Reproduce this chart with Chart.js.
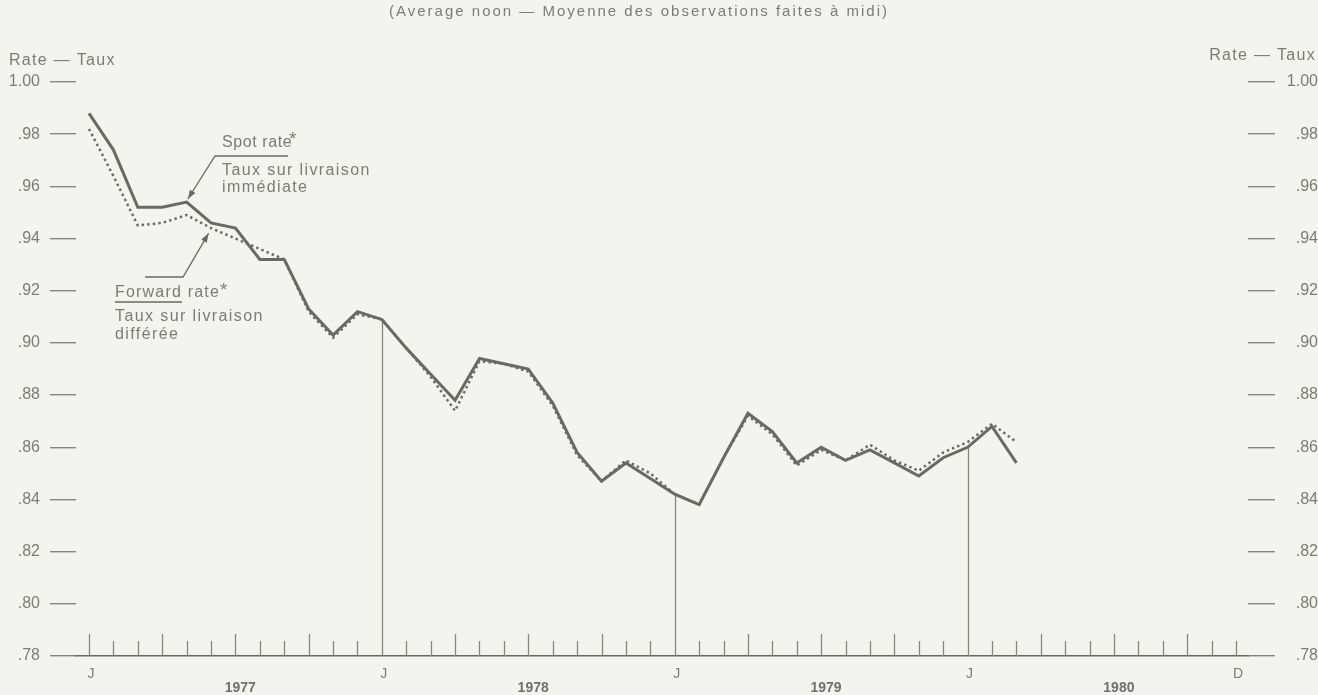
<!DOCTYPE html>
<html>
<head>
<meta charset="utf-8">
<script src="https://cdn.jsdelivr.net/npm/chart.js@4"></script>
<style>
  html, body { margin: 0; padding: 0; background: #f3f4ef; }
</style>
</head>
<body>
<canvas id="rateChart" width="1318" height="695"></canvas>
<script>
// monthly averages, Jan 1977 .. Mar 1980
const months = ['1977-01','1977-02','1977-03','1977-04','1977-05','1977-06','1977-07','1977-08','1977-09','1977-10','1977-11','1977-12',
                '1978-01','1978-02','1978-03','1978-04','1978-05','1978-06','1978-07','1978-08','1978-09','1978-10','1978-11','1978-12',
                '1979-01','1979-02','1979-03','1979-04','1979-05','1979-06','1979-07','1979-08','1979-09','1979-10','1979-11','1979-12',
                '1980-01','1980-02','1980-03'];
const spotRate = [0.988,0.974,0.952,0.952,0.954,0.946,0.944,0.932,0.932,0.913,0.903,0.912,
                  0.909,0.898,0.888,0.878,0.894,0.892,0.890,0.877,0.858,0.847,0.854,0.848,
                  0.842,0.838,0.856,0.873,0.866,0.854,0.860,0.855,0.859,0.854,0.849,0.856,
                  0.860,0.868,0.854];
const forwardRate = [0.982,0.964,0.945,0.946,0.949,0.944,0.940,0.936,0.932,0.912,0.902,0.911,
                     0.909,0.898,0.887,0.874,0.893,0.892,0.889,0.876,0.857,0.847,0.855,0.850,
                     0.842,0.838,0.856,0.872,0.865,0.853,0.859,0.855,0.861,0.855,0.851,0.858,
                     0.862,0.869,0.862];

// axis labels
const yTicks = [0.78,0.80,0.82,0.84,0.86,0.88,0.90,0.92,0.94,0.96,0.98,1.00];
const monthLabelAt = ['1977-01','1978-01','1979-01','1980-01','1980-12'];
const monthLabels = ['J','J','J','J','D'];
const yearLabelAt = ['1977-07','1978-07','1979-07','1980-07'];
const yearLabels = ['1977','1978','1979','1980'];
const axisFirst = '1977-01', axisLast = '1980-12';

const LINE = '#686b61';
const TICK = '#85887e';
const TEXT = '#7a7d73';
const BG = '#f3f4ef';
const FONT = '"Liberation Sans", Arial, sans-serif';

function monthIndex(m) {
  const [yy, mm] = m.split('-').map(Number);
  return (yy - 1977) * 12 + (mm - 1);
}

const X_MIN = -0.533, X_MAX = 47.49;

function fmtRate(v) {
  const s = v.toFixed(2);
  return v >= 1 ? s : s.slice(1);
}

function text(ctx, str, x, y, size, align, ls, bold) {
  ctx.font = (bold ? 'bold ' : '') + size + 'px ' + FONT;
  ctx.letterSpacing = (ls || 0) + 'px';
  ctx.textAlign = align || 'left';
  ctx.textBaseline = 'alphabetic';
  ctx.fillStyle = TEXT;
  ctx.fillText(str, x, y);
}

function arrowHead(ctx, fromX, fromY, toX, toY) {
  const a = Math.atan2(toY - fromY, toX - fromX);
  const len = 9, w = 3.2;
  ctx.beginPath();
  ctx.moveTo(toX, toY);
  ctx.lineTo(toX - len * Math.cos(a) + w * Math.sin(a), toY - len * Math.sin(a) - w * Math.cos(a));
  ctx.lineTo(toX - len * Math.cos(a) - w * Math.sin(a), toY - len * Math.sin(a) + w * Math.cos(a));
  ctx.closePath();
  ctx.fill();
}

const decorations = {
  id: 'decorations',
  beforeDraw(chart) {
    const ctx = chart.ctx;
    ctx.save();
    ctx.fillStyle = BG;
    ctx.fillRect(0, 0, chart.width, chart.height);
    ctx.restore();
  },
  beforeDatasetsDraw(chart) {
    const {ctx, scales: {x, y}} = chart;
    const base = y.getPixelForValue(0.78);
    ctx.save();
    ctx.strokeStyle = TICK;
    ctx.lineWidth = 1.3;
    for (let i = monthIndex(axisFirst); i <= monthIndex(axisLast); i++) {
      const px = Math.round(x.getPixelForValue(i)) + 0.5;
      let top = base - (i % 3 === 0 ? 22 : 15);
      // january lines run up to the spot curve
      if (i % 12 === 0 && i > 0 && i < spotRate.length) top = y.getPixelForValue(spotRate[i]);
      ctx.beginPath();
      ctx.moveTo(px, base);
      ctx.lineTo(px, top);
      ctx.stroke();
    }
    ctx.restore();
  },
  afterDraw(chart) {
    const {ctx, scales: {x, y}} = chart;
    ctx.save();
    text(ctx, '(Average noon \u2014 Moyenne des observations faites \u00e0 midi)', 639, 16, 15, 'center', 2);
    text(ctx, 'Rate \u2014 Taux', 9, 65, 16, 'left', 1.3);
    text(ctx, 'Rate \u2014 Taux', 1316, 60, 16, 'right', 1.3);

    // spot rate note
    text(ctx, 'Spot rate', 222, 147, 16, 'left', 0.6);
    text(ctx, '*', 289, 145, 19, 'left', 0);
    text(ctx, 'Taux sur livraison', 222, 175, 16, 'left', 1.4);
    text(ctx, 'imm\u00e9diate', 222, 192, 16, 'left', 1.4);
    // forward rate note
    text(ctx, 'Forward rate', 115, 297, 16, 'left', 1.2);
    text(ctx, '*', 220, 296, 19, 'left', 0);
    text(ctx, 'Taux sur livraison', 115, 321, 16, 'left', 1.4);
    text(ctx, 'diff\u00e9r\u00e9e', 115, 339, 16, 'left', 1.4);

    ctx.strokeStyle = LINE;
    ctx.fillStyle = LINE;
    ctx.lineWidth = 1.3;
    // spot pointer
    const sx = x.getPixelForValue(4.05), sy = y.getPixelForValue(spotRate[4]) - 3;
    ctx.beginPath();
    ctx.moveTo(288, 156); ctx.lineTo(215, 156); ctx.lineTo(sx, sy);
    ctx.stroke();
    arrowHead(ctx, 215, 156, sx, sy);
    // forward pointer
    const fx = x.getPixelForValue(4.9), fy = y.getPixelForValue(0.942);
    ctx.beginPath();
    ctx.moveTo(145, 277); ctx.lineTo(183, 277); ctx.lineTo(fx, fy);
    ctx.stroke();
    arrowHead(ctx, 183, 277, fx, fy);
    ctx.beginPath();
    ctx.moveTo(115, 302); ctx.lineTo(182, 302);
    ctx.stroke();
    ctx.restore();
  }
};

const tickFont = { family: FONT, size: 16 };

new Chart(document.getElementById('rateChart'), {
  type: 'line',
  data: {
    datasets: [
      {
        label: 'Spot rate',
        data: spotRate.map((v, i) => ({ x: monthIndex(months[i]), y: v })),
        borderColor: LINE,
        borderWidth: 3,
        pointRadius: 0,
        tension: 0
      },
      {
        label: 'Forward rate',
        data: forwardRate.map((v, i) => ({ x: monthIndex(months[i]), y: v })),
        borderColor: LINE,
        borderWidth: 2.5,
        borderDash: [2.4, 3.2],
        pointRadius: 0,
        tension: 0
      }
    ]
  },
  options: {
    responsive: false,
    animation: false,
    devicePixelRatio: 1,
    layout: { padding: { top: 82, left: 0, right: 0, bottom: 0 } },
    plugins: { legend: { display: false }, tooltip: { enabled: false } },
    scales: {
      x: {
        type: 'linear', position: 'bottom', weight: 0,
        min: X_MIN, max: X_MAX,
        // labels sit a hair right of their tick
        afterBuildTicks: s => { s.ticks = monthLabelAt.map(m => ({ value: monthIndex(m) + 0.08 })); },
        afterFit: s => { s.height = 24; },
        ticks: {
          autoSkip: false, maxRotation: 0, padding: 10,
          color: TEXT, font: { family: FONT, size: 14 },
          callback: (v, i) => monthLabels[i]
        },
        grid: { display: false, drawTicks: false },
        border: { display: true, color: LINE, width: 1.5 }
      },
      xYears: {
        type: 'linear', position: 'bottom', weight: 1,
        min: X_MIN, max: X_MAX,
        afterBuildTicks: s => { s.ticks = yearLabelAt.map(m => ({ value: monthIndex(m) + 0.2 })); },
        afterFit: s => { s.height = 15; },
        ticks: {
          autoSkip: false, maxRotation: 0, padding: 0,
          color: '#6f7268', font: { family: FONT, size: 14, weight: 'bold' },
          callback: (v, i) => yearLabels[i]
        },
        grid: { display: false, drawTicks: false },
        border: { display: false }
      },
      y: {
        position: 'left', min: 0.78, max: 1.00,
        afterBuildTicks: s => { s.ticks = yTicks.map(v => ({ value: v })); },
        afterFit: s => { s.width = 76; },
        ticks: { padding: 10, color: TEXT, font: tickFont, callback: v => fmtRate(v) },
        grid: { drawOnChartArea: false, drawTicks: true, tickLength: 26, color: TICK, lineWidth: 1.4 },
        border: { display: false }
      },
      yRight: {
        position: 'right', min: 0.78, max: 1.00,
        afterBuildTicks: s => { s.ticks = yTicks.map(v => ({ value: v })); },
        afterFit: s => { s.width = 70; },
        ticks: { padding: 11, crossAlign: 'far', color: TEXT, font: tickFont, callback: v => fmtRate(v) },
        grid: { drawOnChartArea: false, drawTicks: true, tickLength: 27, color: TICK, lineWidth: 1.4 },
        border: { display: false }
      }
    }
  },
  plugins: [decorations]
});
</script>
</body>
</html>
